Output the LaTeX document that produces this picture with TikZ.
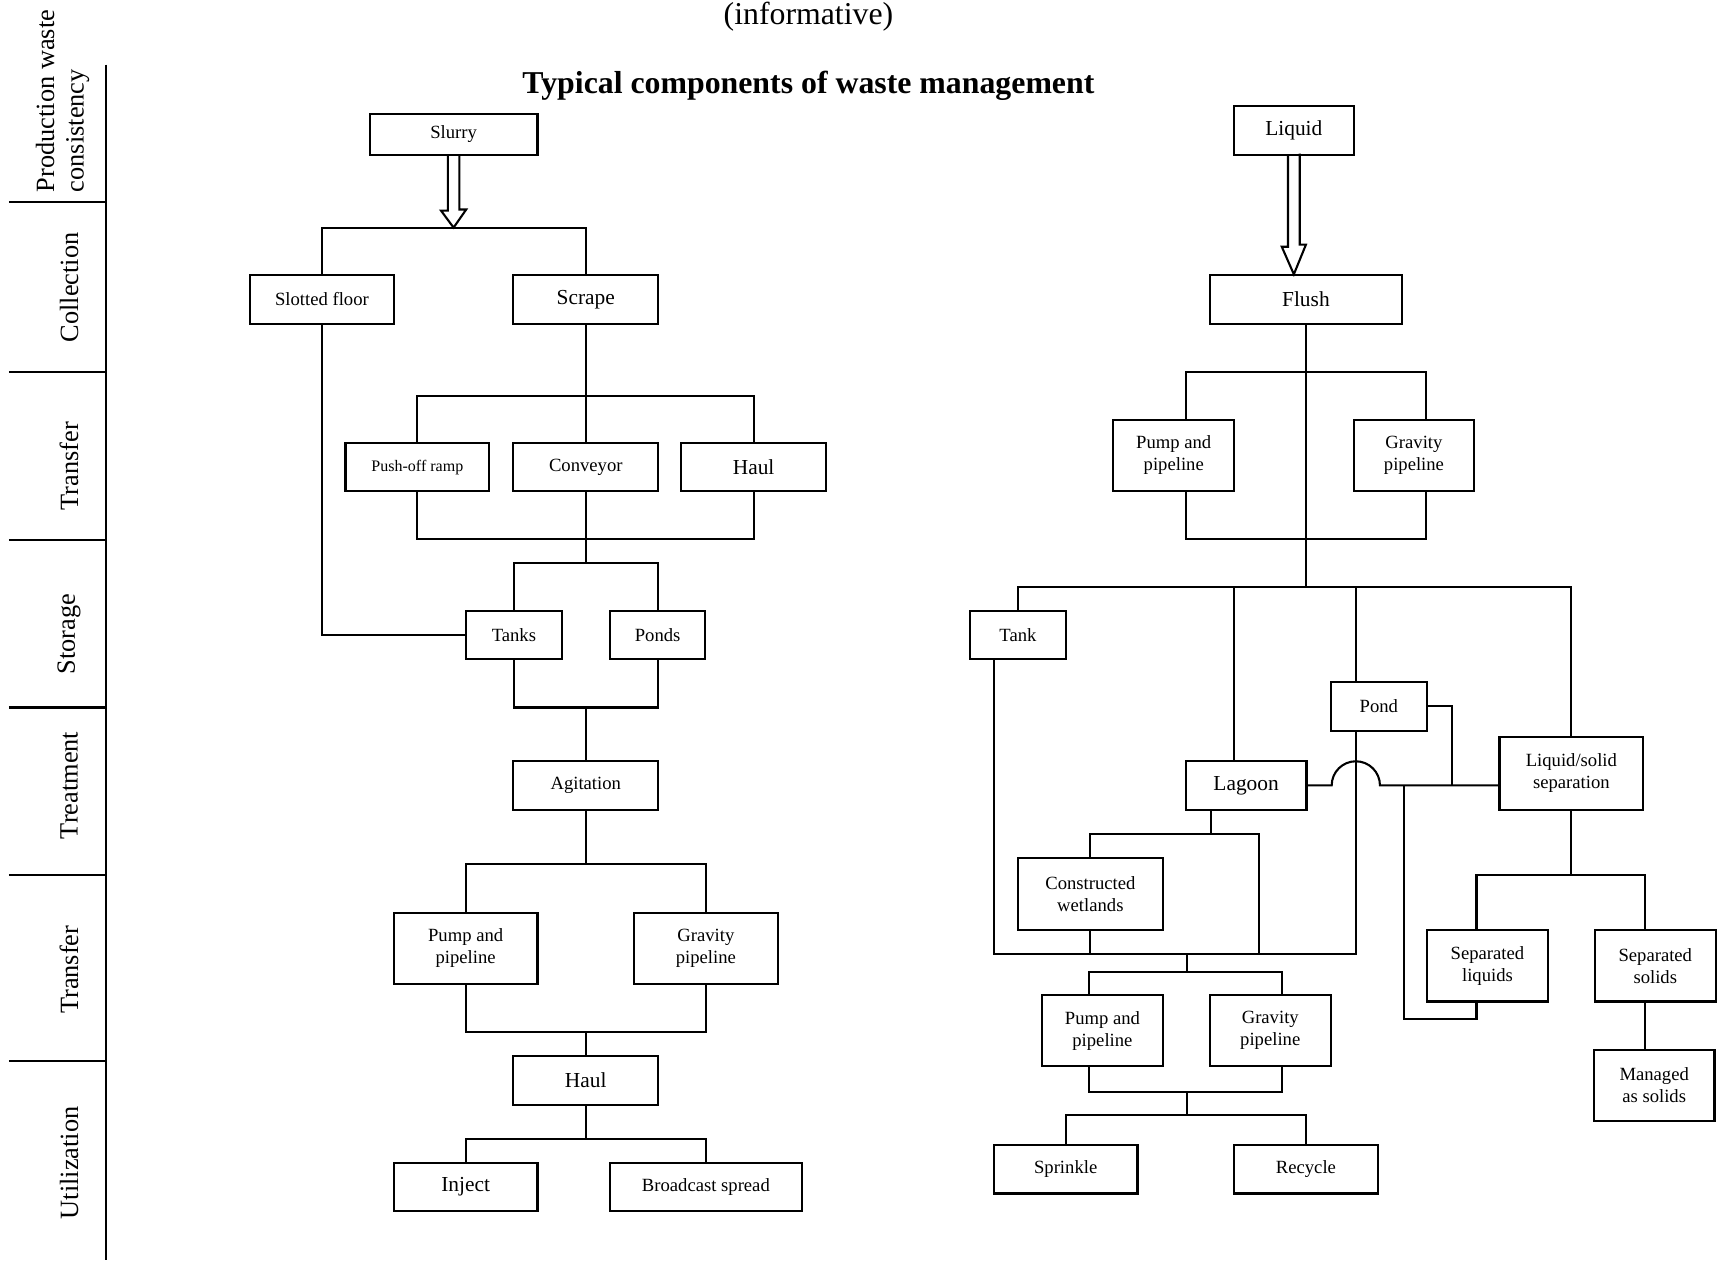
\documentclass[tikz,border=0pt]{standalone}
\usepackage{fontspec}
\setmainfont{Liberation Serif}
\usetikzlibrary{calc}
\begin{document}
\begin{tikzpicture}[x=1pt,y=-1pt, line width=1.9pt,
  bx/.style={draw, inner sep=0pt, align=center, minimum height=44pt, font=\fontsize{17}{20}\selectfont},
  big/.style={font=\fontsize{19.5}{22}\selectfont},
  tall/.style={minimum height=65pt},
  band/.style={rotate=90, font=\fontsize{24}{27}\selectfont, inner sep=0pt}]
\useasboundingbox (0,0) rectangle (1568,1151);

% ---- title ----
\node[font=\fontsize{29}{32}\selectfont, anchor=base] (inf) at (737,22) {(informative)};
\node[font=\bfseries\fontsize{29}{32}\selectfont, anchor=base] (title) at (737,85) {Typical components of waste management};

% ---- left band ----
\draw (96.6,59) -- (96.6,1149);
\foreach \yy in {184,339,492,645,798,967} \draw (8,\yy) -- (96.6,\yy);
\node[band, anchor=west, align=left] (lprod) at (57,176) {Production waste\\consistency};
\node[band] (lcoll) at (63,262) {Collection};
\node[band] (ltr1) at (63,425) {Transfer};
\node[band] (lsto) at (63,578) {Storage};
\node[band] (ltre) at (63,716) {Treatment};
\node[band] (ltr2) at (63,884) {Transfer};
\node[band] (luti) at (63,1060) {Utilization};

% ---- left tree nodes ----
\node[bx, minimum width=153pt, minimum height=37pt] (slurry) at (413.5,122.5) {Slurry};
\node[bx, minimum width=131pt] (slotted) at (293.5,273) {Slotted floor};
\node[bx, big, minimum width=132pt] (scrape) at (534,273) {Scrape};
\node[bx, minimum width=131pt, font=\fontsize{14.6}{17}\selectfont] (push) at (380.5,426) {Push-off ramp};
\node[bx, minimum width=132pt] (conveyor) at (534,426) {Conveyor};
\node[bx, big, minimum width=132pt] (haul1) at (687,426) {Haul};
\node[bx, minimum width=87pt] (tanks) at (468.5,579) {Tanks};
\node[bx, minimum width=87pt] (ponds) at (599.5,579) {Ponds};
\node[bx, minimum width=132pt] (agitation) at (534,716) {Agitation};
\node[bx, tall, minimum width=131pt] (pump1) at (424.5,864.5) {Pump and\\pipeline};
\node[bx, tall, minimum width=131pt] (grav1) at (643.5,864.5) {Gravity\\pipeline};
\node[bx, big, minimum width=132pt] (haul2) at (534,985) {Haul};
\node[bx, big, minimum width=131pt] (inject) at (424.5,1082) {Inject};
\node[bx, minimum width=175pt] (broadcast) at (643.5,1082) {Broadcast spread};

% ---- left tree connectors ----
\coordinate (j1) at (413.5,207.5);
\draw (slurry.south) ++(-5.2,0) -- ++(0,50) -- ++(-6.3,0) -- (j1) -- ++(11.5,-16.5) -- ++(-6.3,0) -- ++(0,-50);
\draw (slotted.north) |- (j1) -| (scrape.north);
\coordinate (j2) at (534,360.7);
\draw (scrape.south) -- (conveyor.north);
\draw (push.north) |- (j2) -| (haul1.north);
\coordinate (j3) at (534,491.7);
\draw (push.south) |- (j3) -| (haul1.south);
\coordinate (j4) at (534,513.4);
\draw (conveyor.south) -- (j4);
\draw (tanks.north) |- (j4) -| (ponds.north);
\draw (slotted.south) |- (tanks.west);
\coordinate (j5) at (534,645);
\draw (tanks.south) |- (j5) -| (ponds.south);
\draw (j5) -- (agitation.north);
\coordinate (j6) at (534,788);
\draw (agitation.south) -- (j6);
\draw (pump1.north) |- (j6) -| (grav1.north);
\coordinate (j7) at (534,940.5);
\draw (pump1.south) |- (j7) -| (grav1.south);
\draw (j7) -- (haul2.north);
\coordinate (j8) at (534,1038);
\draw (haul2.south) -- (j8);
\draw (inject.north) |- (j8) -| (broadcast.north);

% ---- right tree nodes ----
\node[bx, big, minimum width=109pt] (liquid) at (1179.5,119) {Liquid};
\node[bx, big, minimum width=175pt] (flush) at (1190.5,273) {Flush};
\node[bx, tall, minimum width=110pt] (pump2) at (1070,415) {Pump and\\pipeline};
\node[bx, tall, minimum width=110pt] (grav2) at (1289,415) {Gravity\\pipeline};
\node[bx, minimum width=88pt] (tank) at (928,579) {Tank};
\node[bx, minimum width=88pt] (pond) at (1257,644) {Pond};
\node[bx, big, minimum width=110pt] (lagoon) at (1136,716) {Lagoon};
\node[bx, minimum width=131pt, minimum height=66pt] (ls) at (1432.5,705) {Liquid/solid\\separation};
\node[bx, minimum width=132pt, minimum height=66pt] (cw) at (994,815) {Constructed\\wetlands};
\node[bx, tall, minimum width=110pt] (sepliq) at (1356,880.5) {Separated\\liquids};
\node[bx, tall, minimum width=110pt] (sepsol) at (1509,880.5) {Separated\\solids};
\node[bx, tall, minimum width=110pt] (managed) at (1508,989.5) {Managed\\as solids};
\node[bx, tall, minimum width=110pt] (pump3) at (1005,939.5) {Pump and\\pipeline};
\node[bx, tall, minimum width=110pt] (grav3) at (1158,939.5) {Gravity\\pipeline};
\node[bx, minimum width=131pt] (sprinkle) at (971.5,1066) {Sprinkle};
\node[bx, minimum width=131pt] (recycle) at (1190.5,1066) {Recycle};

% ---- right tree connectors ----
\coordinate (ftip) at ([xshift=-11pt]flush.north);
\draw (liquid.south) ++(-5.35,0) -- ++(0,83) -- ++(-5.65,0) -- (ftip) -- ++(11,-27) -- ++(-5.65,0) -- ++(0,-83);
\coordinate (p2n) at ([xshift=11pt]pump2.north);
\coordinate (p2s) at ([xshift=11pt]pump2.south);
\coordinate (g2n) at ([xshift=11pt]grav2.north);
\coordinate (g2s) at ([xshift=11pt]grav2.south);
\coordinate (j9) at (1190.5,338.8);
\coordinate (j9b) at (1190.5,491.7);
\coordinate (j10) at (1190.5,535.4);
\draw (flush.south) -- (j10);
\draw (p2n) |- (j9) -| (g2n);
\draw (p2s) |- (j9b) -| (g2s);
\draw (tank.north) |- (j10) -| (ls.north);
\coordinate (lagN) at ([xshift=-11pt]lagoon.north);
\draw (lagN) -- (lagN |- j10);
\coordinate (pondN) at ([xshift=-21pt]pond.north);
\coordinate (pondS) at ([xshift=-21pt]pond.south);
\draw (pondN) -- (pondN |- j10);
\coordinate (tankS) at ([xshift=-21.5pt]tank.south);
\coordinate (j11) at (1082,869.7);
\draw (tankS) |- (j11) -| (pondS);
\coordinate (lagS) at ([xshift=-32pt]lagoon.south);
\coordinate (j12) at (1104,760);
\draw (lagS) -- (j12);
\coordinate (j13) at (1148,869.7);
\draw (cw.north) |- (j12) -| (j13);
\draw (cw.south) -- (cw.south |- j11);
\coordinate (j14) at (1082,885.8);
\draw (j11) -- (j14);
\coordinate (p3n) at ([xshift=-12pt]pump3.north);
\coordinate (p3s) at ([xshift=-12pt]pump3.south);
\coordinate (g3n) at ([xshift=11pt]grav3.north);
\coordinate (g3s) at ([xshift=11pt]grav3.south);
\draw (p3n) |- (j14) -| (g3n);
\coordinate (j15) at (1082,995.2);
\draw (p3s) |- (j15) -| (g3s);
\coordinate (j16) at (1082,1016.7);
\draw (j15) -- (j16);
\draw (sprinkle.north) |- (j16) -| (recycle.north);
\coordinate (j17) at (1324,716);
\draw (pond.east) -| (j17);
\coordinate (arcL) at (1214,716);
\coordinate (lsW) at ([yshift=-11pt]ls.west);
\draw (lagoon.east) -- (arcL) arc[start angle=180,end angle=360,radius=22] -- (lsW);
\coordinate (j18) at (1280,716);
\coordinate (j19) at (1280,929.2);
\coordinate (sliqS) at ([xshift=-10pt]sepliq.south);
\draw (j18) -- (j19) -| (sliqS);
\coordinate (j20) at (1432.5,798);
\draw (ls.south) -- (j20);
\coordinate (sliqN) at ([xshift=-10pt]sepliq.north);
\coordinate (ssolN) at ([xshift=-9pt]sepsol.north);
\coordinate (ssolS) at ([xshift=-9pt]sepsol.south);
\coordinate (mN) at ([xshift=-8pt]managed.north);
\draw (sliqN) |- (j20) -| (ssolN);
\draw (ssolS) -- (mN);
\end{tikzpicture}
\end{document}
